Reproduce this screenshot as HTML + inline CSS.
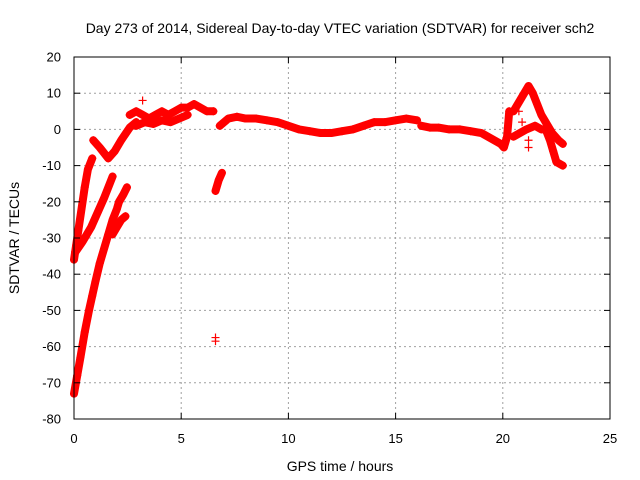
<!DOCTYPE html>
<html><head><meta charset="utf-8"><style>
html,body{margin:0;padding:0;background:#fff}
svg{display:block;font-family:"Liberation Sans",sans-serif}
</style></head><body>
<svg id="chart" width="640" height="480" viewBox="0 0 640 480">
<rect x="0" y="0" width="640" height="480" fill="#fff"/>
<text x="340" y="33" font-size="14" text-anchor="middle">Day 273 of 2014, Sidereal Day-to-day VTEC variation (SDTVAR) for receiver sch2</text>
<g id="grid"></g>
<g id="series"></g>
<rect x="74" y="57" width="536" height="362" fill="none" stroke="#000" stroke-width="1"/>
<g id="ticks"></g>
<text x="340" y="471" font-size="14" text-anchor="middle">GPS time / hours</text>
<text x="19" y="238" font-size="14" text-anchor="middle" transform="rotate(-90 19 238)">SDTVAR / TECUs</text>
</svg>
<script>
const xTicks=[0,5,10,15,20,25];
const yTicks=[20,10,0,-10,-20,-30,-40,-50,-60,-70,-80];
const segA_t=[0,0.15,0.3,0.5,0.7,0.85,1.0,1.2,1.4,1.6,1.8,2.0,2.1,2.3,2.47];
const segA_v=[-73,-68,-63,-56,-50,-46,-42,-37,-33,-29,-25,-22,-20,-18,-16];
const segB_t=[0,0.1,0.2,0.35,0.5,0.65,0.85];
const segB_v=[-36,-32,-28,-22,-16,-11,-8];
const segC_t=[0.05,0.4,0.8,1.1,1.4,1.8];
const segC_v=[-34,-31,-27,-23,-19,-13];
const segD_t=[1.8,2.0,2.2,2.4];
const segD_v=[-29,-27,-25,-24];
const segE_t=[0.9,1.2,1.6,1.9,2.2,2.6,2.9];
const segE_v=[-3,-5,-8,-6,-3,0.5,2];
const segF_t=[2.6,2.9,3.2,3.5,3.8,4.1,4.4,4.7,5.0,5.3,5.6,5.9,6.2,6.5];
const segF_v=[4,5,4,3,4,5,4,5,6,6,7,6,5,5];
const segF2_t=[2.9,3.3,3.7,4.1,4.5,4.9,5.3];
const segF2_v=[1,2,1.5,2.5,2,3,4];
const segG_t=[6.8,7.2,7.6,8.0,8.5,9.0,9.5,10,10.5,11,11.5,12,12.5,13,13.5,14,14.5,15,15.5,16];
const segG_v=[1,3,3.5,3,3,2.5,2,1,0,-0.5,-1,-1,-0.5,0,1,2,2,2.5,3,2.5];
const segH_t=[16.2,16.6,17,17.5,18,18.5,19,19.3,19.6,19.9,20.05,20.2,20.3];
const segH_v=[1,0.5,0.5,0,0,-0.5,-1,-2,-3,-4,-5,-2,5];
const segI_t=[20.5,20.8,21.0,21.2,21.4,21.6,21.8,22.0,22.3,22.6,22.8];
const segI_v=[5,8,10,12,10,7,4,2,-1,-3,-4];
const segJ_t=[20.5,20.8,21.1,21.5,21.8,22.0,22.2,22.35,22.5,22.8];
const segJ_v=[-2,-1,0,1,0,0,-3,-6,-9,-10];
const segK_t=[6.6,6.75,6.9];
const segK_v=[-17,-14,-12];
const outT=[6.6,6.6,3.2,20.75,20.9,21.2,21.2];
const outV=[-57.5,-58.5,8,5,2,-3,-5];
const segsT=[segA_t,segB_t,segC_t,segD_t,segE_t,segF_t,segF2_t,segG_t,segH_t,segI_t,segJ_t,segK_t];
const segsV=[segA_v,segB_v,segC_v,segD_v,segE_v,segF_v,segF2_v,segG_v,segH_v,segI_v,segJ_v,segK_v];

const X0=74,X1=610,Y0=57,Y1=419;
function xs(t){return X0+(t-0)/(25-0)*(X1-X0);}
function ys(v){return Y0+(20-v)/(20-(-80))*(Y1-Y0);}
const NS="http://www.w3.org/2000/svg";
function mk(tag,attrs,parent){const e=document.createElementNS(NS,tag);for(const k in attrs)e.setAttribute(k,attrs[k]);parent.appendChild(e);return e;}
const grid=document.getElementById('grid'),ticks=document.getElementById('ticks'),series=document.getElementById('series');
xTicks.forEach(t=>{const x=xs(t);
 if(t>0&&t<25){const g=mk('line',{x1:x,x2:x,y1:Y0,y2:Y1,stroke:'#a0a0a0','stroke-dasharray':'2,3'},grid);
 
 }
 const a=mk('line',{x1:x,x2:x,y1:Y1,y2:Y1-6,stroke:'#000'},ticks);
 
 
 const b=mk('line',{x1:x,x2:x,y1:Y0,y2:Y0+6,stroke:'#000'},ticks);
 
 
 const l=mk('text',{x:x,y:443,'font-size':13,'text-anchor':'middle'},ticks);l.textContent=t;
 
 
});
yTicks.forEach(v=>{const y=ys(v);
 if(v<20&&v>-80){const g=mk('line',{x1:X0,x2:X1,y1:y,y2:y,stroke:'#a0a0a0','stroke-dasharray':'2,3'},grid);
 
 }
 const a=mk('line',{x1:X0,x2:X0+6,y1:y,y2:y,stroke:'#000'},ticks);
 
 
 const b=mk('line',{x1:X1,x2:X1-6,y1:y,y2:y,stroke:'#000'},ticks);
 
 
 const l=mk('text',{x:61,y:y+4.5,'font-size':13,'text-anchor':'end'},ticks);l.textContent=v;
 
 
});
function plus(t,v){const x=xs(t),y=ys(v);
 const p=mk('path',{d:`M${x-4},${y}H${x+4}M${x},${y-4}V${y+4}`,stroke:'#f00','stroke-width':1.2,fill:'none'},series);
 
 }
segsT.forEach((ts,i)=>{const vs=segsV[i];
 const pts=ts.map((t,j)=>xs(t)+','+ys(vs[j])).join(' ');
 const pl=mk('polyline',{points:pts,fill:'none',stroke:'#f00','stroke-width':8,'stroke-linejoin':'round','stroke-linecap':'round'},series);
 
 
 ts.forEach((t,j)=>plus(t,vs[j]));
});
outT.forEach((t,j)=>plus(t,outV[j]));
</script>
</body></html>
